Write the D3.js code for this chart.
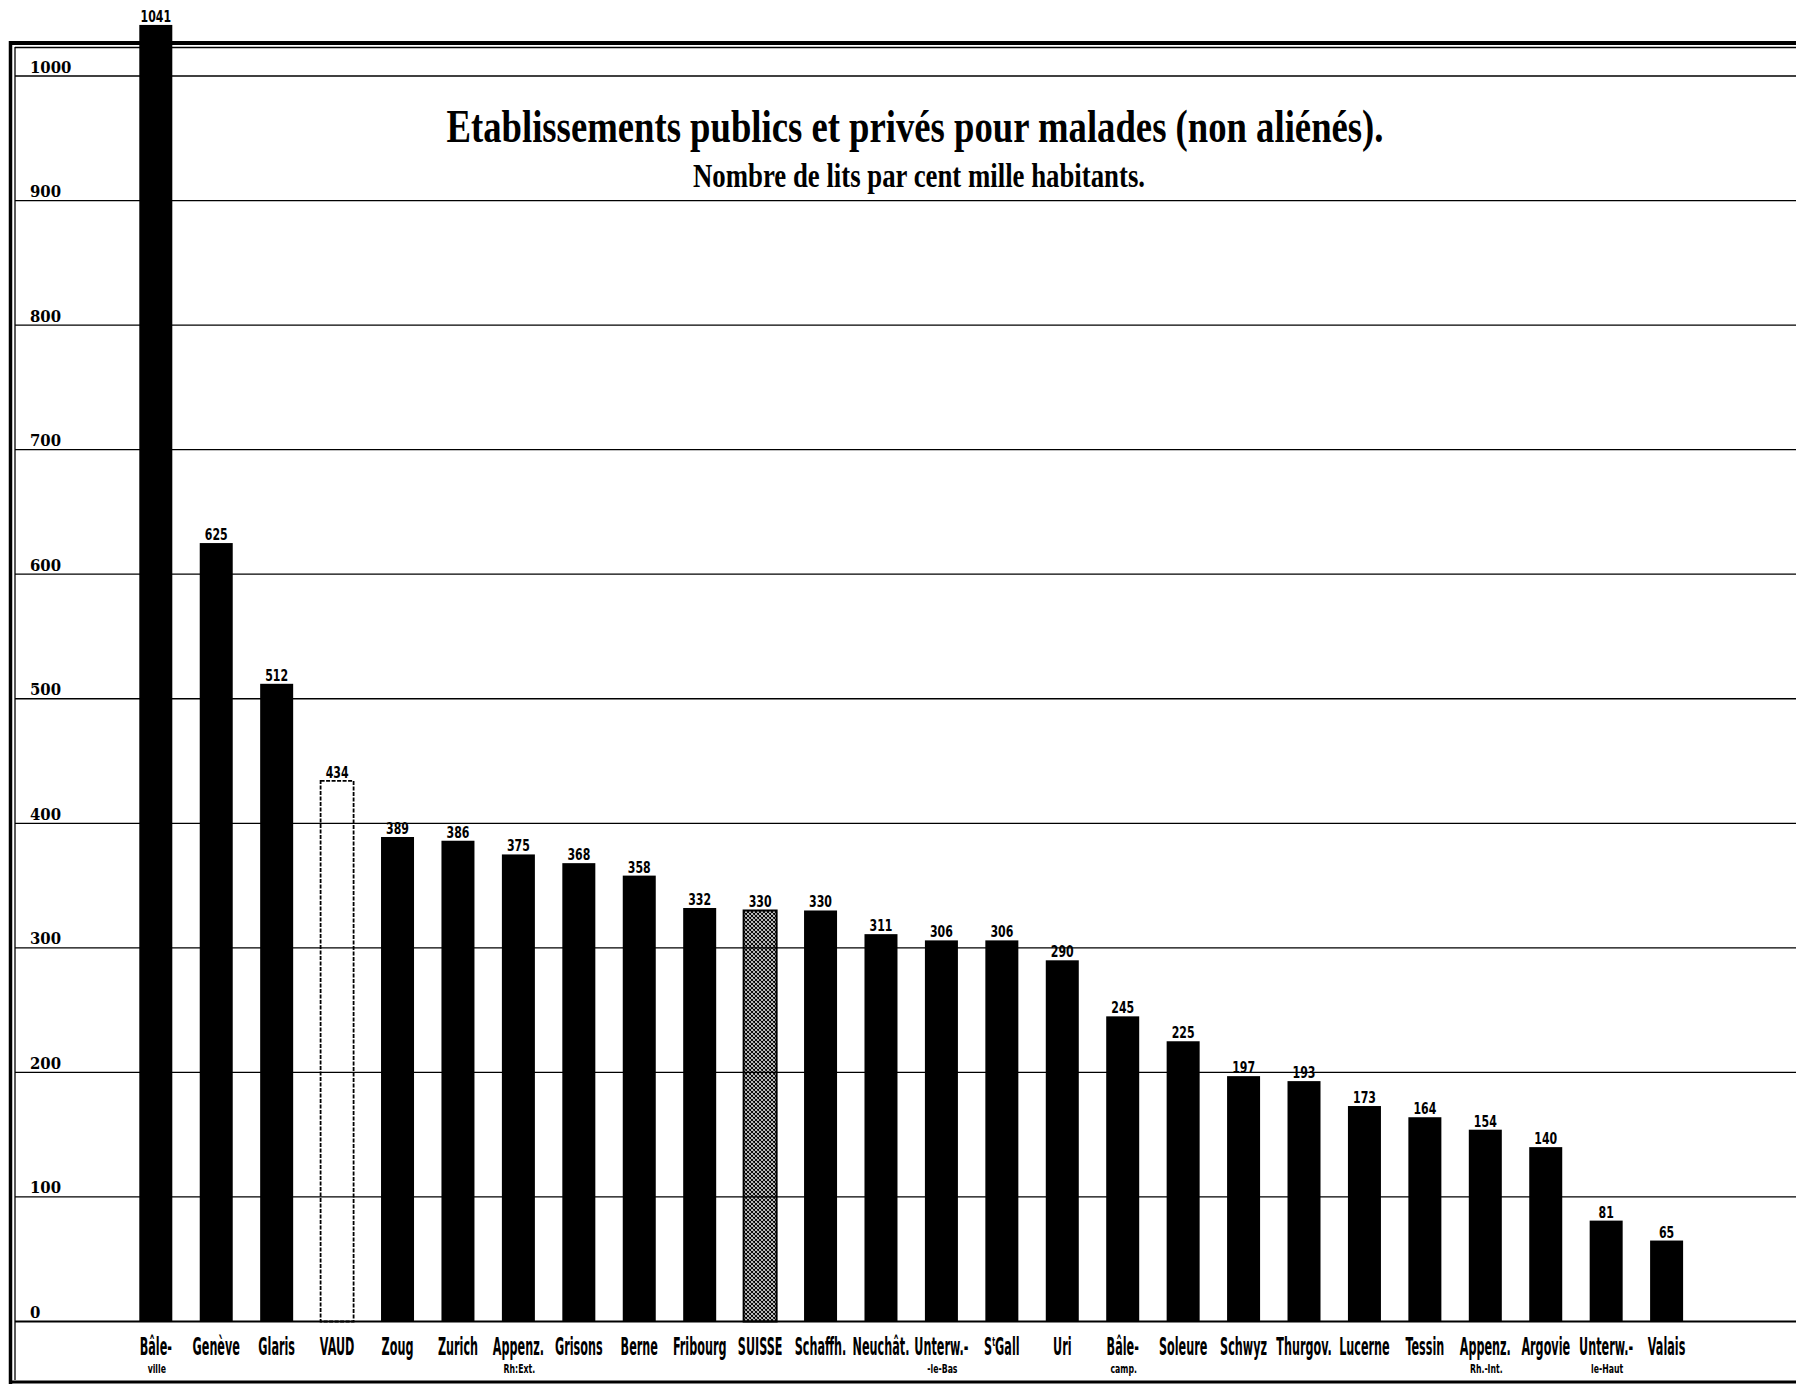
<!DOCTYPE html>
<html>
<head>
<meta charset="utf-8">
<script src="https://cdn.jsdelivr.net/npm/d3@7"></script>
<style>
  body { margin: 0; background: #fff; }
  svg { display: block; }
</style>
</head>
<body>
<div class="chart-area"></div>
<script>
// cantons, left to right as on the plate
var cantons = ["Bâle-", "Genève", "Glaris", "VAUD", "Zoug", "Zurich", "Appenz.", "Grisons", "Berne",
    "Fribourg", "SUISSE", "Schaffh.", "Neuchât.", "Unterw.-", "St Gall", "Uri", "Bâle-", "Soleure",
    "Schwyz", "Thurgov.", "Lucerne", "Tessin", "Appenz.", "Argovie", "Unterw.-", "Valais"];
var subLabels = ["ville", "", "", "", "", "", "Rh:Ext.", "", "", "", "", "", "", "-le-Bas", "", "",
    "camp.", "", "", "", "", "", "Rh.-Int.", "", "le-Haut", ""];
// lits par cent mille habitants
var beds = [1041, 625, 512, 434, 389, 386, 375, 368, 358, 332, 330, 330, 311, 306, 306, 290,
    245, 225, 197, 193, 173, 164, 154, 140, 81, 65];
var yTicks = [0, 100, 200, 300, 400, 500, 600, 700, 800, 900, 1000];

var W = 1796, H = 1385;
var barW = 33;

var svg = d3.select(".chart-area")
    .append("svg")
    .attr("width", W)
    .attr("height", H);

var defs = svg.append("defs");
var hatch = defs.append("pattern")
    .attr("id", "hatch")
    .attr("patternUnits", "userSpaceOnUse")
    .attr("width", 4)
    .attr("height", 4);
hatch.append("rect").attr("width", 4).attr("height", 4).attr("fill", "#fff");
hatch.append("path")
    .attr("d", "M0 0 L4 4 M4 0 L0 4 M-1 3 L1 5 M3 -1 L5 1 M-1 1 L1 -1 M3 5 L5 3")
    .attr("stroke", "#000")
    .attr("stroke-width", 1.1);

var x = d3.scalePoint()
    .domain(d3.range(cantons.length))
    .range([155.8, 1666.6]);

var y = d3.scaleLinear()
    .domain([0, 1000])
    .range([1321.5, 76]);

// frame
var frame = svg.append("g").attr("stroke", "#000").attr("fill", "none");
frame.append("line").attr("x1", 9).attr("x2", W).attr("y1", 43).attr("y2", 43).attr("stroke-width", 4);
frame.append("line").attr("x1", 15).attr("x2", W).attr("y1", 47.5).attr("y2", 47.5).attr("stroke-width", 1.3);
frame.append("line").attr("x1", 10.5).attr("x2", 10.5).attr("y1", 41).attr("y2", 1384).attr("stroke-width", 3.5);
frame.append("line").attr("x1", 15).attr("x2", 15).attr("y1", 47).attr("y2", 1380).attr("stroke-width", 1.3);
frame.append("line").attr("x1", 9).attr("x2", W).attr("y1", 1382).attr("y2", 1382).attr("stroke-width", 3);

// bars
var bars = svg.append("g");
bars.selectAll("rect")
    .data(beds)
    .enter()
    .append("rect")
    .attr("x", function(d, i) { return x(i) - barW / 2; })
    .attr("y", function(d) { return y(d); })
    .attr("width", barW)
    .attr("height", function(d) { return y(0) - y(d); })
    .attr("fill", function(d, i) {
        if (cantons[i] === "VAUD") return "#fff";
        if (cantons[i] === "SUISSE") return "url(#hatch)";
        return "#000";
    })
    .attr("stroke", "#000")
    .attr("stroke-width", function(d, i) { return cantons[i] === "VAUD" ? 1.8 : (cantons[i] === "SUISSE" ? 2 : 0); })
    .attr("stroke-dasharray", function(d, i) { return cantons[i] === "VAUD" ? "4,1.5" : null; });

// grid lines (drawn over the light bars as on the plate)
var grid = svg.append("g");
grid.selectAll("line")
    .data(yTicks)
    .enter()
    .append("line")
    .attr("x1", 15)
    .attr("x2", W)
    .attr("y1", function(d) { return y(d); })
    .attr("y2", function(d) { return y(d); })
    .attr("stroke", "#000")
    .attr("stroke-width", function(d) { return d === 0 ? 2 : 1.3; });

grid.selectAll("text")
    .data(yTicks)
    .enter()
    .append("text")
    .attr("transform", function(d) { return "translate(30," + (y(d) - 3.5) + ") scale(0.93,1)"; })
    .attr("font-family", "DejaVu Serif")
    .attr("font-weight", "bold")
    .attr("font-size", 16)
    .text(function(d) { return d; });

// value labels
var vals = svg.append("g")
    .attr("font-family", "DejaVu Sans Condensed, DejaVu Sans")
    .attr("font-stretch", "condensed")
    .attr("font-weight", "bold")
    .attr("font-size", 16.5)
    .attr("text-anchor", "middle");
vals.selectAll("text")
    .data(beds)
    .enter()
    .append("text")
    .attr("transform", function(d, i) { return "translate(" + x(i) + "," + (y(d) - 3) + ") scale(0.74,1)"; })
    .text(function(d) { return d; });

// canton names
var names = svg.append("g")
    .attr("font-family", "DejaVu Sans Condensed, DejaVu Sans")
    .attr("font-stretch", "condensed")
    .attr("font-weight", "bold")
    .attr("text-anchor", "middle");
names.selectAll("text.name")
    .data(cantons)
    .enter()
    .append("text")
    .attr("class", "name")
    .attr("font-size", 24)
    .attr("transform", function(d, i) { return "translate(" + x(i) + ",1355) scale(0.52,1)"; })
    .each(function(d) {
        var t = d3.select(this);
        if (d === "St Gall") {
            t.append("tspan").text("S");
            t.append("tspan").attr("font-size", 13).attr("dy", -9).text("t");
            t.append("tspan").attr("dy", 9).text("Gall");
        } else {
            t.text(d);
        }
    });
names.selectAll("text.sub")
    .data(subLabels)
    .enter()
    .append("text")
    .attr("class", "sub")
    .attr("font-size", 12)
    .attr("transform", function(d, i) { return "translate(" + (x(i) + 1) + ",1373) scale(0.72,1)"; })
    .text(function(d) { return d; });

// title
svg.append("text")
    .attr("x", 915)
    .attr("y", 142)
    .attr("text-anchor", "middle")
    .attr("font-family", "Liberation Serif")
    .attr("font-weight", "bold")
    .attr("font-size", 47)
    .attr("textLength", 937)
    .attr("lengthAdjust", "spacingAndGlyphs")
    .text("Etablissements publics et privés pour malades (non aliénés).");
svg.append("text")
    .attr("x", 919)
    .attr("y", 187)
    .attr("text-anchor", "middle")
    .attr("font-family", "Liberation Serif")
    .attr("font-weight", "bold")
    .attr("font-size", 33)
    .attr("textLength", 452)
    .attr("lengthAdjust", "spacingAndGlyphs")
    .text("Nombre de lits par cent mille habitants.");
</script>
</body>
</html>
